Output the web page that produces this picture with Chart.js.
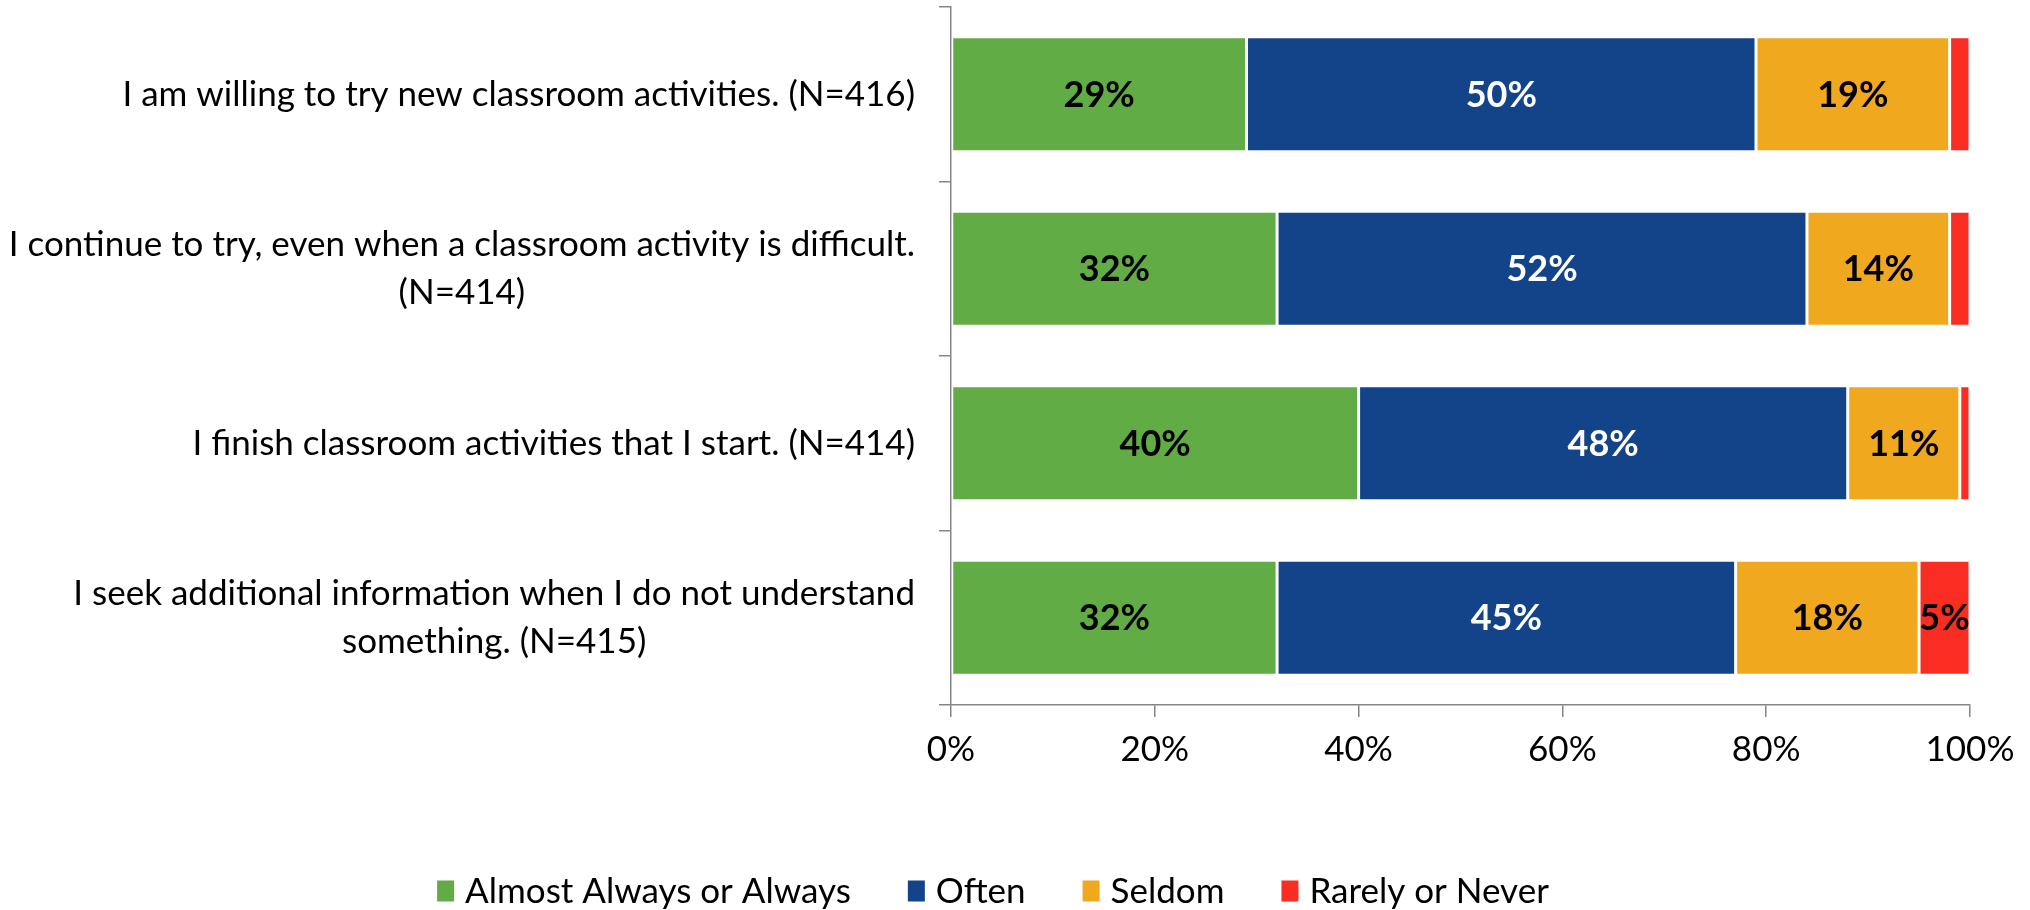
<!DOCTYPE html>
<html>
<head>
<meta charset="utf-8">
<script src="https://cdn.jsdelivr.net/npm/chart.js@4.4.1/dist/chart.umd.min.js"></script>
<style>
  html, body { margin: 0; padding: 0; background: #fff; }
  #wrap { width: 2030px; height: 910px; }
</style>
</head>
<body>
<div id="wrap"><canvas id="persistChart" width="2030" height="910"></canvas></div>
<script>
// Survey items (multi-line where the label wraps)
const statements = [
  'I am willing to try new classroom activities. (N=416)',
  ['I continue to try, even when a classroom activity is difficult.', '(N=414)'],
  'I finish classroom activities that I start. (N=414)',
  ['I seek additional information when I do not understand', 'something. (N=415)']
];

// Percent of students per response
const almostAlways = [29, 32, 40, 32];
const often        = [50, 52, 48, 45];
const seldom       = [19, 14, 11, 18];
const rarely       = [2, 2, 1, 5];

const xTicks = [0, 20, 40, 60, 80, 100];

const FONT = "Lato, 'Open Sans', sans-serif";
const AXIS_GREY = '#868686';

// Draws the percentage inside each segment
const segmentLabels = {
  id: 'segmentLabels',
  afterDatasetsDraw(chart) {
    const ctx = chart.ctx;
    ctx.save();
    ctx.font = 'bold 36px ' + FONT;
    ctx.textAlign = 'center';
    ctx.textBaseline = 'middle';
    chart.data.datasets.forEach((ds, i) => {
      const meta = chart.getDatasetMeta(i);
      meta.data.forEach((bar, j) => {
        const v = ds.data[j];
        if (v < 5) return;
        const cx = (bar.x + bar.base) / 2;
        ctx.fillStyle = ds.labelColor;
        ctx.fillText(v + '%', cx, bar.y + 1);
      });
    });
    ctx.restore();
  }
};

// Category labels: block right-aligned to the axis, wrapped lines centred on each other
const statementLabels = {
  id: 'statementLabels',
  afterDraw(chart) {
    const ctx = chart.ctx;
    const y = chart.scales.y;
    const right = y.right - 36;
    const lineH = 48;
    ctx.save();
    ctx.font = '35px ' + FONT;
    ctx.fillStyle = '#000';
    ctx.textAlign = 'center';
    ctx.textBaseline = 'middle';
    chart.data.labels.forEach((lbl, i) => {
      const lines = Array.isArray(lbl) ? lbl : [lbl];
      const w = Math.max(...lines.map(l => ctx.measureText(l).width));
      const cx = right - w / 2;
      const cy = y.getPixelForValue(i);
      const top = cy - (lines.length - 1) * lineH / 2;
      lines.forEach((l, k) => ctx.fillText(l, cx, top + k * lineH));
    });
    ctx.restore();
  }
};

// Legend row under the axis, items spaced out like the source chart
const wideLegend = {
  id: 'wideLegend',
  afterDraw(chart) {
    const ctx = chart.ctx;
    const box = { w: 17, h: 21 };
    const textGap = 11;
    const itemGap = 57;
    const cy = 891;
    ctx.save();
    ctx.font = '35px ' + FONT;
    ctx.textBaseline = 'middle';
    ctx.textAlign = 'left';
    const items = chart.data.datasets.map(ds => ({
      text: ds.label,
      color: ds.backgroundColor,
      w: box.w + textGap + ctx.measureText(ds.label).width
    }));
    const total = items.reduce((s, it) => s + it.w, 0) + itemGap * (items.length - 1);
    let x = chart.width / 2 - 22 - total / 2;
    items.forEach(it => {
      ctx.fillStyle = it.color;
      ctx.fillRect(x, cy - box.h / 2, box.w, box.h);
      ctx.fillStyle = '#000';
      ctx.fillText(it.text, x + box.w + textGap, cy + 1);
      x += it.w + itemGap;
    });
    ctx.restore();
  }
};

function series(label, data, color, labelColor) {
  return {
    label: label,
    data: data,
    backgroundColor: color,
    borderColor: '#ffffff',
    borderWidth: 1.5,
    borderSkipped: false,
    labelColor: labelColor,
    categoryPercentage: 0.66,
    barPercentage: 1
  };
}

new Chart(document.getElementById('persistChart'), {
  type: 'bar',
  data: {
    labels: statements,
    datasets: [
      series('Almost Always or Always', almostAlways, '#62ac46', '#000000'),
      series('Often', often, '#134389', '#ffffff'),
      series('Seldom', seldom, '#f0a91e', '#000000'),
      series('Rarely or Never', rarely, '#f92d22', '#000000')
    ]
  },
  options: {
    indexAxis: 'y',
    responsive: false,
    animation: false,
    devicePixelRatio: 1,
    layout: { padding: { left: 0, right: 60, top: 7, bottom: 0 } },
    plugins: {
      legend: { display: false },
      tooltip: { enabled: false }
    },
    scales: {
      x: {
        stacked: true,
        min: 0,
        max: 100,
        afterBuildTicks(scale) {
          scale.ticks = xTicks.map(v => ({ value: v }));
        },
        afterFit(scale) { scale.height = 205; },
        ticks: {
          color: '#000',
          font: { family: FONT, size: 35 },
          padding: 12,
          callback: v => v + '%'
        },
        grid: {
          drawOnChartArea: false,
          drawTicks: true,
          tickLength: 12,
          color: AXIS_GREY,
          lineWidth: 1.5
        },
        border: { color: AXIS_GREY, width: 1.5 }
      },
      y: {
        stacked: true,
        afterFit(scale) {
          scale.width = 951;
          scale.paddingTop = 0;
          scale.paddingBottom = 0;
        },
        ticks: { display: false },
        grid: {
          drawOnChartArea: false,
          drawTicks: true,
          tickLength: 12,
          color: AXIS_GREY,
          lineWidth: 1.5
        },
        border: { color: AXIS_GREY, width: 1.5 }
      }
    }
  },
  plugins: [segmentLabels, statementLabels, wideLegend]
});
</script>
</body>
</html>
